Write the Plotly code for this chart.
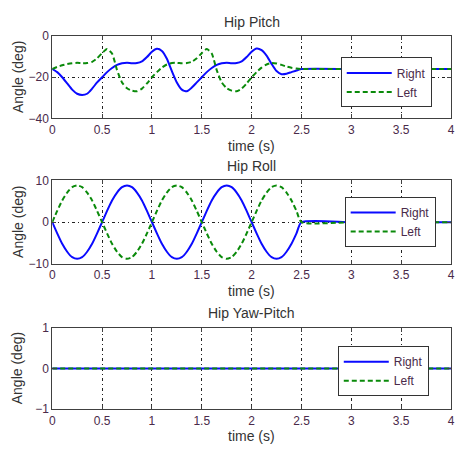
import plotly.graph_objects as go

# ---------------- data ----------------
time_s = [0.0, 0.05, 0.1, 0.15, 0.2, 0.25, 0.3, 0.35, 0.4, 0.45,
          0.5, 0.55, 0.6, 0.65, 0.7, 0.75, 0.8, 0.85, 0.9, 0.95,
          1.0, 1.05, 1.1, 1.15, 1.2, 1.25, 1.3, 1.35, 1.4, 1.45,
          1.5, 1.55, 1.6, 1.65, 1.7, 1.75, 1.8, 1.85, 1.9, 1.95,
          2.0, 2.05, 2.1, 2.15, 2.2, 2.25, 2.3, 2.35, 2.4, 2.45,
          2.5, 3.0, 3.5, 4.0]

pitch_right = [-16, -17.5, -20, -23, -26, -28, -28.6, -28, -25.5, -22.5,
               -20, -17.5, -15.5, -14, -13.2, -13, -13.2, -13.1, -12.3, -10.2,
               -7.6, -6.2, -7.2, -11, -17, -22.5, -26, -26.8, -25, -22.5,
               -20, -17.5, -15.5, -14, -13.2, -13, -13.2, -13.1, -12.3, -10.2,
               -7.6, -6.0, -6.8, -9.5, -13.5, -17, -18.5, -18.3, -17.5, -16.7,
               -16, -16, -16, -16]

pitch_left = [-16, -15, -14.2, -13.6, -13.2, -13, -13.2, -13.1, -12.5, -10.8,
              -8.3, -6.3, -8.5, -16.5, -22.5, -25.3, -26.5, -26.8, -25.5, -23,
              -20, -17.5, -15.3, -13.8, -13.1, -13, -13.2, -13.1, -12.5, -10.8,
              -8.3, -6.3, -8.5, -16.5, -22.5, -25.3, -26.5, -26.8, -25.5, -23,
              -20, -17.5, -15.3, -13.8, -13.1, -13.3, -14, -14.8, -15.4, -15.8,
              -16, -16, -16, -16]

roll_right = [0, -2.7, -5.2, -7.1, -8.4, -8.8, -8.4, -7.1, -5.2, -2.7,
              0, 2.7, 5.2, 7.1, 8.4, 8.8, 8.4, 7.1, 5.2, 2.7,
              0, -2.7, -5.2, -7.1, -8.4, -8.8, -8.4, -7.1, -5.2, -2.7,
              0, 2.7, 5.2, 7.1, 8.4, 8.8, 8.4, 7.1, 5.2, 2.7,
              0, -2.7, -5.2, -7.1, -8.4, -8.8, -8.4, -7.1, -5.2, -2.7,
              0, 0, 0, 0]

roll_left = [0, 2.7, 5.2, 7.1, 8.4, 8.8, 8.4, 7.1, 5.2, 2.7,
             0, -2.7, -5.2, -7.1, -8.4, -8.8, -8.4, -7.1, -5.2, -2.7,
             0, 2.7, 5.2, 7.1, 8.4, 8.8, 8.4, 7.1, 5.2, 2.7,
             0, -2.7, -5.2, -7.1, -8.4, -8.8, -8.4, -7.1, -5.2, -2.7,
             0, 2.7, 5.2, 7.1, 8.4, 8.8, 8.4, 7.1, 5.2, 2.7,
             0, 0, 0, 0]

yawpitch_time = [0.0, 4.0]
yawpitch_right = [0, 0]
yawpitch_left = [0, 0]

titles = ["Hip Pitch", "Hip Roll", "Hip Yaw-Pitch"]
y_ranges = [[-40, 0], [-10, 10], [-1, 1]]
y_ticks = [[-40, -20, 0], [-10, 0, 10], [-1, 0, 1]]
x_ticks = [0, 0.5, 1, 1.5, 2, 2.5, 3, 3.5, 4]
x_ticklabels = ["0", "0.5", "1", "1.5", "2", "2.5", "3", "3.5", "4"]

# ---------------- figure ----------------
W, H = 456, 454
FONT = "Liberation Sans, Arial, sans-serif"
TICKCOL = "#4a2a4a"
TEXTCOL = "#333333"
BLUE = "#0a0aff"
GREEN = "#0a8a0a"

panels = [
    (time_s, pitch_right, pitch_left),
    (time_s, roll_right, roll_left),
    (yawpitch_time, yawpitch_right, yawpitch_left),
]
# pixel geometry of plot areas (top, bottom)
px_rows = [(30, 115), (179, 265), (331, 415)]
x_left_px, x_right_px = 50, 455
legend_pos = [(343, 52), (347, 196), (340, 350)]

fig = go.Figure()
for i, (tt, r, l) in enumerate(panels):
    n = "" if i == 0 else str(i + 1)
    leg = "legend" + n
    fig.add_trace(go.Scatter(x=tt, y=r, mode="lines", name="Right",
                             line=dict(color=BLUE, width=2, shape="spline", smoothing=0.6),
                             xaxis="x" + n, yaxis="y" + n, legend=leg))
    fig.add_trace(go.Scatter(x=tt, y=l, mode="lines", name="Left",
                             line=dict(color=GREEN, width=2, dash="5px,3px", shape="spline", smoothing=0.6),
                             xaxis="x" + n, yaxis="y" + n, legend=leg))

layout = dict(
    width=W, height=H, autosize=False,
    margin=dict(l=0, r=0, t=0, b=0),
    paper_bgcolor="white", plot_bgcolor="white",
    font=dict(family=FONT, color=TEXTCOL),
    annotations=[],
)
axis_common = dict(
    showline=True, linecolor="#404040", linewidth=1, mirror="ticks",
    ticks="inside", ticklen=4, tickcolor="#404040",
    showgrid=True, gridcolor="#222222", gridwidth=1, griddash="3px,3px,1px,3px",
    zeroline=False, tickfont=dict(family=FONT, size=12, color=TICKCOL),
    ticklabeloverflow="allow",
)
for i in range(3):
    n = "" if i == 0 else str(i + 1)
    top, bot = px_rows[i]
    ydom = [1 - bot / H, 1 - top / H]
    xdom = [x_left_px / W, x_right_px / W]
    layout["xaxis" + n] = dict(axis_common, domain=xdom, range=[0, 4],
                               tickvals=x_ticks, ticktext=x_ticklabels,
                               anchor="y" + n)
    layout["yaxis" + n] = dict(axis_common, domain=ydom, range=y_ranges[i],
                               tickvals=y_ticks[i], anchor="x" + n)
    lx, ly = legend_pos[i]
    layout["legend" + n] = dict(
        x=lx / W, y=1 - ly / H, xanchor="left", yanchor="top",
        bgcolor="white", bordercolor="#333333", borderwidth=1,
        font=dict(family=FONT, size=12, color=TICKCOL),
        itemwidth=45, tracegroupgap=0,
    )
    cx = (x_left_px + x_right_px) / 2 / W
    layout["annotations"].append(dict(
        text=titles[i], x=cx, y=1 - (top - 15) / H, xref="paper", yref="paper",
        xanchor="center", yanchor="middle", showarrow=False,
        font=dict(family=FONT, size=14, color=TEXTCOL)))
    layout["annotations"].append(dict(
        text="time (s)", x=cx, y=1 - (bot + 28) / H, xref="paper", yref="paper",
        xanchor="center", yanchor="middle", showarrow=False,
        font=dict(family=FONT, size=14, color=TEXTCOL)))
    layout["annotations"].append(dict(
        text="Angle (deg)", x=15 / W, y=1 - ((top + bot) / 2) / H, xref="paper", yref="paper",
        xanchor="center", yanchor="middle", showarrow=False, textangle=-90,
        font=dict(family=FONT, size=14, color=TEXTCOL)))

fig.update_layout(**layout)
fig.write_html(
    "out.html",
    config={"displayModeBar": False, "staticPlot": True},
    post_script="document.body.style.margin='0';document.body.style.padding='0';"
                "document.documentElement.style.overflow='hidden';",
)
